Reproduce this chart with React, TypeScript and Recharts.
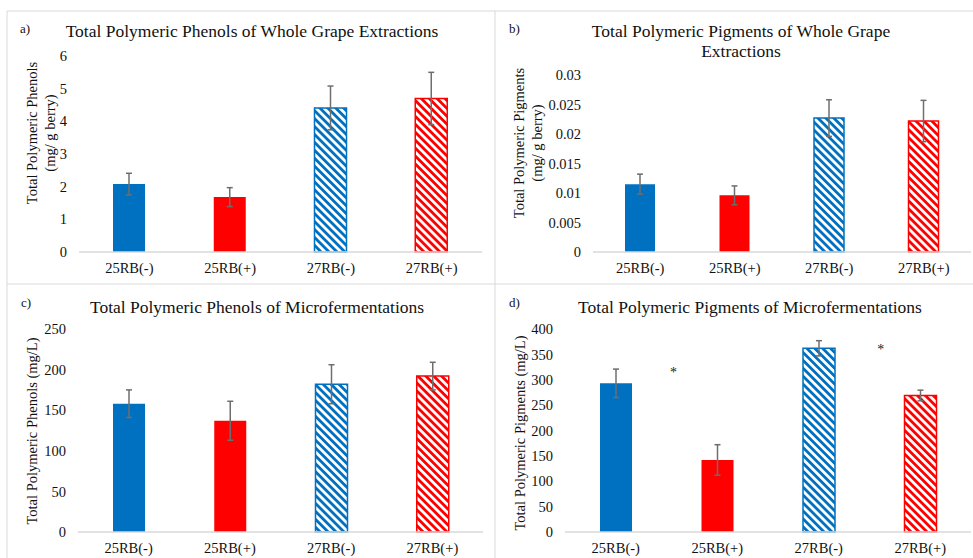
import { Bar, Cell, ComposedChart, ErrorBar, Scatter, XAxis, YAxis } from "recharts"

const categories = ["25RB(-)", "25RB(+)", "27RB(-)", "27RB(+)"]

// a) whole grape extractions, phenols (mg/ g berry)
const wholePhenols = [2.08, 1.68, 4.41, 4.7]
const wholePhenolsErr = [0.33, 0.29, 0.67, 0.8]
const wholePhenolTicks = [0, 1, 2, 3, 4, 5, 6]

// b) whole grape extractions, pigments (mg/ g berry)
const wholePigments = [0.0115, 0.0096, 0.0227, 0.0222]
const wholePigmentsErr = [0.0017, 0.0016, 0.0031, 0.0035]
const wholePigmentTicks = [0, 0.005, 0.01, 0.015, 0.02, 0.025, 0.03]

// c) microfermentations, phenols (mg/L)
const microPhenols = [158, 137, 182, 192]
const microPhenolsErr = [17, 24, 24, 17]
const microPhenolTicks = [0, 50, 100, 150, 200, 250]

// d) microfermentations, pigments (mg/L)
const microPigments = [293, 142, 362, 269]
const microPigmentsErr = [28, 30, 15, 10.5]
const microPigmentTicks = [0, 50, 100, 150, 200, 250, 300, 350, 400]

// significance asterisks for d), x in band units across the four categories
const microPigmentMarks = [
  { x: 1.07, y: 322 },
  { x: 3.11, y: 367 },
]

const BLUE = "#0070C0"
const RED = "#FF0000"
const FONT = "Liberation Serif, DejaVu Serif, serif"
const GRID = "#d9d9d9"

const barFills = [BLUE, RED, "url(#hatch-blue)", "url(#hatch-red)"]
const barStrokes = ["none", "none", BLUE, RED]

type Mark = { x: number; y: number }

type PanelProps = {
  left: number
  top: number
  width: number
  height: number
  margin: { top: number; right: number; bottom: number; left: number }
  xHeight: number
  values: number[]
  errors: number[]
  ticks: number[]
  barSize: number
  marks?: Mark[]
}

function Asterisk(props: any) {
  const { cx, cy } = props
  return (
    <text x={cx} y={cy + 8} textAnchor="middle" fontSize={14} style={{ fontFamily: FONT }} fill="#222">
      *
    </text>
  )
}

function Panel({ left, top, width, height, margin, xHeight, values, errors, ticks, barSize, marks }: PanelProps) {
  const rows = categories.map((name, i) => ({ name, value: values[i], err: errors[i] }))
  const tick = { fontSize: 14.5, fill: "#111", style: { fontFamily: FONT } }

  return (
    <div style={{ position: "absolute", left, top, fontFamily: FONT }}>
      <ComposedChart width={width} height={height} data={rows} margin={margin} style={{ fontFamily: FONT }}>
        <XAxis
          xAxisId="cat"
          dataKey="name"
          height={xHeight}
          tick={tick}
          tickLine={false}
          tickSize={0}
          tickMargin={11}
          axisLine={{ stroke: GRID, strokeWidth: 1.3 }}
          interval={0}
        />
        <XAxis xAxisId="sig" type="number" dataKey="x" domain={[0, 4]} allowDataOverflow hide />
        <YAxis
          width={40}
          domain={[ticks[0], ticks[ticks.length - 1]]}
          ticks={ticks}
          interval={0}
          tick={tick}
          tickLine={false}
          tickSize={0}
          tickMargin={12}
          axisLine={false}
        />
        <Bar xAxisId="cat" dataKey="value" barSize={barSize} isAnimationActive={false}>
          {rows.map((r, i) => (
            <Cell key={r.name} fill={barFills[i]} stroke={barStrokes[i]} strokeWidth={1.5} />
          ))}
          <ErrorBar dataKey="err" width={3} stroke="#6e6e6e" strokeWidth={1.5} />
        </Bar>
        {marks && (
          <Scatter xAxisId="sig" data={marks} dataKey="y" shape={Asterisk} isAnimationActive={false} />
        )}
      </ComposedChart>
    </div>
  )
}

function VLabel({ x, y, text }: { x: number; y: number; text: string }) {
  return (
    <text
      x={x}
      y={y}
      transform={`rotate(-90 ${x} ${y})`}
      textAnchor="middle"
      dominantBaseline="central"
      fontSize={14.5}
      fill="#111"
    >
      {text}
    </text>
  )
}

function Title({ x, y, text }: { x: number; y: number; text: string }) {
  return (
    <text x={x} y={y} textAnchor="middle" fontSize={17.5} fill="#111">
      {text}
    </text>
  )
}

function Letter({ x, y, text }: { x: number; y: number; text: string }) {
  return (
    <text x={x} y={y} fontSize={13} fill="#111">
      {text}
    </text>
  )
}

export default function App() {
  return (
    <div
      style={{
        position: "fixed",
        left: 0,
        top: 0,
        width: 973,
        height: 558,
        background: "#fff",
        overflow: "hidden",
        fontFamily: FONT,
      }}
    >
      <Panel
        left={7}
        top={11}
        width={488}
        height={273}
        margin={{ top: 45, right: 13, bottom: 2, left: 32 }}
        xHeight={30}
        values={wholePhenols}
        errors={wholePhenolsErr}
        ticks={wholePhenolTicks}
        barSize={32}
      />
      <Panel
        left={495}
        top={11}
        width={478}
        height={273}
        margin={{ top: 64, right: 2, bottom: 2, left: 58 }}
        xHeight={30}
        values={wholePigments}
        errors={wholePigmentsErr}
        ticks={wholePigmentTicks}
        barSize={30}
      />
      <Panel
        left={7}
        top={284}
        width={488}
        height={274}
        margin={{ top: 45, right: 12, bottom: 2, left: 31 }}
        xHeight={24}
        values={microPhenols}
        errors={microPhenolsErr}
        ticks={microPhenolTicks}
        barSize={32}
      />
      <Panel
        left={495}
        top={284}
        width={478}
        height={274}
        margin={{ top: 45, right: 2, bottom: 2, left: 30 }}
        xHeight={24}
        values={microPigments}
        errors={microPigmentsErr}
        ticks={microPigmentTicks}
        barSize={32}
        marks={microPigmentMarks}
      />

      <svg
        width={973}
        height={558}
        style={{ position: "absolute", left: 0, top: 0, pointerEvents: "none", fontFamily: FONT }}
      >
        <defs>
          <pattern id="hatch-blue" width={5.6} height={5.6} patternUnits="userSpaceOnUse" patternTransform="rotate(-45)">
            <rect width={5.6} height={5.6} fill="#fff" />
            <rect width={2.8} height={5.6} fill={BLUE} />
          </pattern>
          <pattern id="hatch-red" width={5.6} height={5.6} patternUnits="userSpaceOnUse" patternTransform="rotate(-45)">
            <rect width={5.6} height={5.6} fill="#fff" />
            <rect width={2.8} height={5.6} fill={RED} />
          </pattern>
        </defs>

        {/* table grid around the four panels */}
        <line x1={7} y1={11} x2={973} y2={11} stroke={GRID} />
        <line x1={7} y1={284} x2={973} y2={284} stroke={GRID} />
        <line x1={7} y1={11} x2={7} y2={558} stroke={GRID} />
        <line x1={495} y1={11} x2={495} y2={558} stroke={GRID} />

        <Letter x={20} y={33} text="a)" />
        <Title x={252} y={37} text="Total Polymeric Phenols of Whole Grape Extractions" />
        <VLabel x={31.5} y={133} text="Total Polymeric Phenols" />
        <VLabel x={49.5} y={133} text="(mg/ g berry)" />

        <Letter x={509} y={33} text="b)" />
        <Title x={741} y={37} text="Total Polymeric Pigments of Whole Grape" />
        <Title x={741} y={57} text="Extractions" />
        <VLabel x={519} y={143} text="Total Polymeric Pigments" />
        <VLabel x={537} y={143} text="(mg/ g berry)" />

        <Letter x={21} y={307} text="c)" />
        <Title x={257} y={313} text="Total Polymeric Phenols of Microfermentations" />
        <VLabel x={31.5} y={431} text="Total Polymeric Phenols (mg/L)" />

        <Letter x={509} y={307} text="d)" />
        <Title x={750} y={313} text="Total Polymeric Pigments of Microfermentations" />
        <VLabel x={520} y={433} text="Total Polymeric Pigments (mg/L)" />
      </svg>
    </div>
  )
}
